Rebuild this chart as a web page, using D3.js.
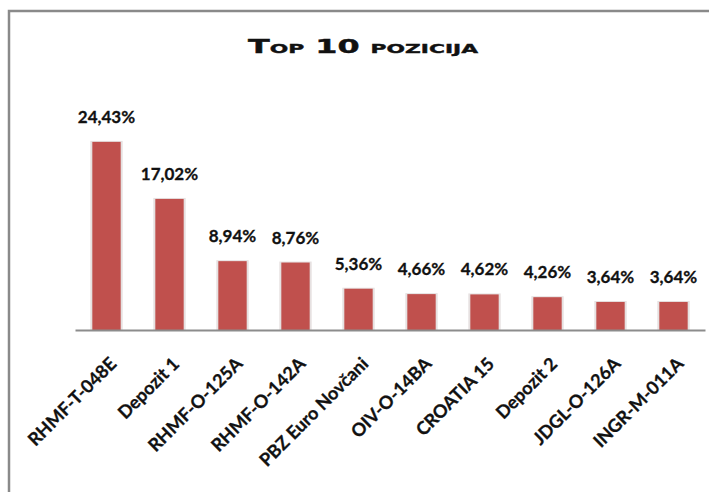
<!DOCTYPE html>
<html>
<head>
    <meta charset="utf-8">
    <title>Top 10 pozicija</title>
    <script src="https://cdn.jsdelivr.net/npm/d3@7"></script>
    <style>
        body { margin: 0; background: #fff; overflow: hidden; }
        svg { display: block; }
    </style>
</head>
<body>
    <svg width="709" height="492" id="mainsvg"></svg>
    <script>
        const categories = ['RHMF-T-048E', 'Depozit 1', 'RHMF-O-125A', 'RHMF-O-142A', 'PBZ Euro Novčani',
            'OIV-O-14BA', 'CROATIA 15', 'Depozit 2', 'JDGL-O-126A', 'INGR-M-011A'];
        const values = [24.43, 17.02, 8.94, 8.76, 5.36, 4.66, 4.62, 4.26, 3.64, 3.64];
        const valueLabels = ['24,43%', '17,02%', '8,94%', '8,76%', '5,36%', '4,66%', '4,62%', '4,26%', '3,64%', '3,64%'];

        const svg = d3.select('#mainsvg');
        const width = +svg.attr('width');
        const height = +svg.attr('height');
        const margin = { top: 99, right: 4, bottom: 162, left: 75 };
        const innerWidth = width - margin.left - margin.right;
        const innerHeight = height - margin.top - margin.bottom;

        // outer frame (only left and top edge visible, like the cropped screenshot)
        svg.append('path')
            .attr('d', `M9,${height} V11 H${width}`)
            .attr('fill', 'none')
            .attr('stroke', '#8a8a8a')
            .attr('stroke-width', 2.5);

        svg.append('text')
            .attr('x', 363)
            .attr('y', 53)
            .attr('text-anchor', 'middle')
            .attr('font-family', 'DejaVu Sans')
            .attr('font-weight', 'bold')
            .attr('font-size', 19)
            .style('font-variant', 'small-caps')
            .attr('textLength', 230)
            .attr('lengthAdjust', 'spacingAndGlyphs')
            .attr('stroke', '#111')
            .attr('stroke-width', 0.4)
            .attr('fill', '#111')
            .text('Top 10 pozicija');

        const g = svg.append('g')
            .attr('transform', `translate(${margin.left}, ${margin.top})`);

        const xScale = d3.scaleBand()
            .domain(categories)
            .range([0, innerWidth])
            .paddingInner(0.55)
            .paddingOuter(0.275);

        const yScale = d3.scaleLinear()
            .domain([0, 30])
            .range([innerHeight, 0]);

        // soft halo behind bars
        g.selectAll('.halo').data(values).join('rect')
            .attr('class', 'halo')
            .attr('x', (d, i) => xScale(categories[i]) - 2)
            .attr('y', d => yScale(d) - 1)
            .attr('width', xScale.bandwidth() + 4)
            .attr('height', d => innerHeight - yScale(d) + 1)
            .attr('fill', '#e6e1e1');

        g.selectAll('.bar').data(values).join('rect')
            .attr('class', 'bar')
            .attr('x', (d, i) => xScale(categories[i]))
            .attr('y', d => yScale(d))
            .attr('width', xScale.bandwidth())
            .attr('height', d => innerHeight - yScale(d))
            .attr('fill', '#c0504d');

        g.selectAll('.vlabel').data(values).join('text')
            .attr('class', 'vlabel')
            .attr('x', (d, i) => xScale(categories[i]) + xScale.bandwidth() / 2)
            .attr('y', d => yScale(d) - 19)
            .attr('text-anchor', 'middle')
            .attr('font-family', 'Lato, sans-serif')
            .attr('font-weight', 'bold')
            .attr('font-size', 17)
            .attr('stroke', '#111')
            .attr('stroke-width', 0.3)
            .attr('fill', '#111')
            .text((d, i) => valueLabels[i]);

        const xAxis = d3.axisBottom(xScale).tickSize(0).tickPadding(0);
        const xAxisGroup = g.append('g')
            .attr('transform', `translate(0, ${innerHeight})`)
            .call(xAxis);
        xAxisGroup.select('.domain')
            .attr('stroke', '#8c8c8c')
            .attr('stroke-width', 2);
        xAxisGroup.selectAll('.tick text')
            .attr('font-family', 'Lato, sans-serif')
            .attr('font-weight', 'bold')
            .attr('font-size', 18)
            .attr('stroke', '#111')
            .attr('stroke-width', 0.3)
            .attr('fill', '#111')
            .attr('text-anchor', 'end')
            .attr('dy', 0)
            .attr('transform', 'translate(11, 35) rotate(-45)');
    </script>
</body>
</html>
